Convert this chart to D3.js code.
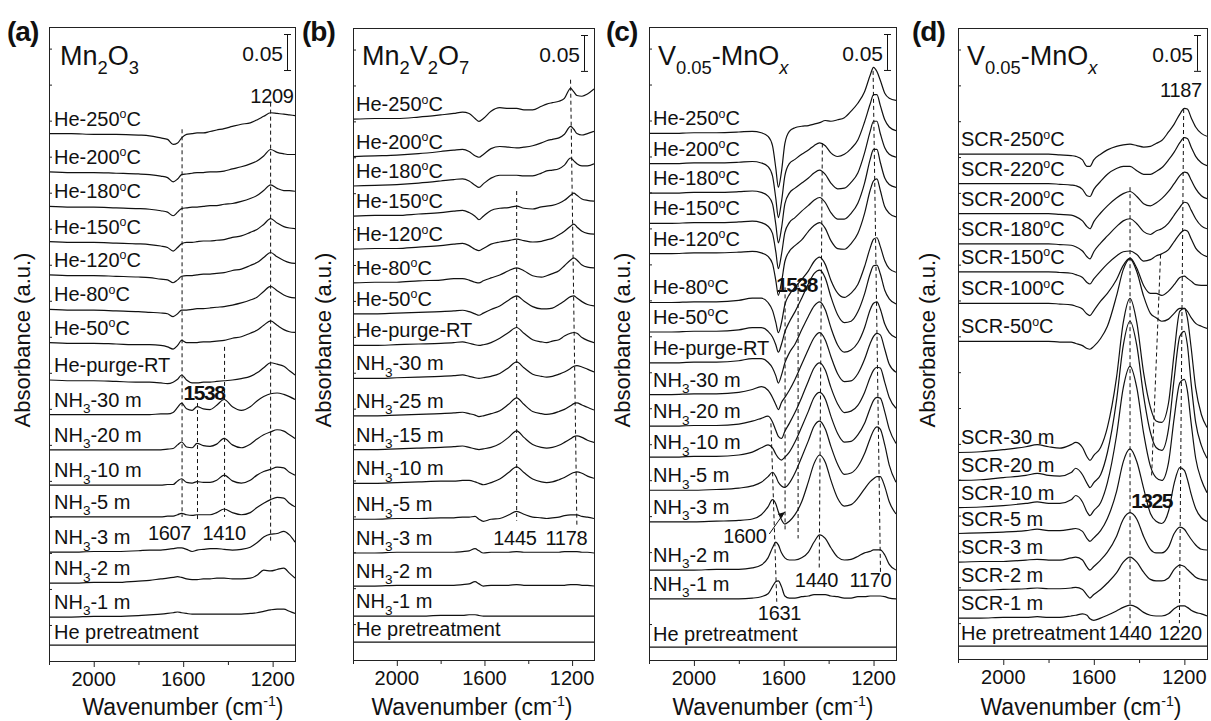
<!DOCTYPE html>
<html><head><meta charset="utf-8">
<script src="https://cdn.jsdelivr.net/npm/d3@7"></script>
<style>
body{margin:0;background:#fff;}
svg{display:block;font-family:"Liberation Sans",Arial,sans-serif;}
</style></head><body>
<svg id="chart" width="1211" height="721"></svg>
<script>
// ---------------- DATA (absorbance in mAU, wavenumber in cm^-1) ----------------
const wnTicksMajor = [2000, 1600, 1200];
const wnTicksMinor = [2200, 1800, 1400];

// Panel (a) Mn2O3
const wnA = [2200,2100,2000,1900,1800,1750,1700,1670,1645,1625,1607,1585,1560,1538,1510,1480,1450,1417,1380,1340,1300,1270,1240,1209,1180,1150,1125,1100];
const labelsA = ["He-250^{o}C","He-200^{o}C","He-180^{o}C","He-150^{o}C","He-120^{o}C","He-80^{o}C","He-50^{o}C","He-purge-RT","NH_{3}-30 m","NH_{3}-20 m","NH_{3}-10 m","NH_{3}-5 m","NH_{3}-3 m","NH_{3}-2 m","NH_{3}-1 m","He pretreatment"];
const offsetsA = [732,679,631,582,536,488,442,390,342,293,244,200,151,108,61,22];
const spectraA = [
 [0,0,-1,-1,-2,-3,-6,-8,-15,-13,-6,-1,0,1,1,3,5,7,10,13,15,19,24,29,28,27,26,25],
 [0,-1,-1,-2,-3,-4,-6,-8,-14,-10,-4,-3,-2,-1,-1,0,0,1,4,7,11,15,22,31,27,25,24,24],
 [0,-1,-1,-2,-3,-4,-6,-8,-13,-8,-3,-2,-1,-1,0,1,1,3,4,7,11,15,22,30,25,22,22,21],
 [0,-1,-1,-2,-3,-4,-6,-8,-13,-8,-3,-1,-1,0,1,1,2,3,6,8,13,17,24,32,26,21,19,18],
 [0,-1,-1,-2,-3,-4,-6,-7,-11,-7,-2,-1,-1,0,1,1,2,3,6,8,13,17,24,31,25,20,17,16],
 [0,-1,-1,-2,-3,-4,-5,-6,-10,-6,-1,-1,0,1,1,2,3,4,6,9,13,17,25,32,26,20,17,16],
 [0,-1,-1,-2,-3,-3,-4,-6,-9,-4,3,0,0,0,1,1,2,3,6,8,13,17,24,30,24,18,15,14],
 [0,-1,-1,-2,-3,-3,-4,-5,-3,1,7,0,-4,-4,-3,-3,-2,-1,0,2,5,10,17,24,22,19,13,7],
 [0,0,0,0,0,0,1,1,3,10,16,8,6,11,8,7,13,21,11,6,11,19,25,29,30,28,25,21],
 [0,0,0,0,0,0,0,1,2,7,11,4,3,9,6,5,8,16,7,3,8,15,21,25,28,26,21,16],
 [0,0,0,0,0,0,0,1,1,6,9,4,3,5,4,4,7,14,6,3,7,14,19,22,25,24,18,14],
 [0,0,0,0,0,0,0,1,1,3,5,3,2,3,3,3,6,11,6,3,6,13,19,24,27,26,19,14],
 [0,0,1,1,2,3,3,4,5,6,6,4,1,3,4,5,5,4,3,4,7,13,21,25,26,29,24,14],
 [0,0,1,1,3,4,6,7,8,9,8,6,5,5,6,6,7,7,6,6,7,11,18,17,19,21,14,7],
 [0,0,1,1,2,3,4,5,6,7,6,5,4,4,4,4,4,4,4,4,5,6,8,10,11,11,8,5],
 [0,0,0,0,0,0,0,0,0,0,0,0,0,0,0,0,0,0,0,0,0,0,0,0,0,0,0,0]
];

// Panel (b) Mn2V2O7
const wnB = [2200,2100,2000,1900,1800,1740,1700,1670,1643,1625,1605,1570,1530,1490,1453,1420,1380,1340,1316,1290,1260,1235,1207,1192,1178,1155,1130,1100];
const labelsB = ["He-250^{o}C","He-200^{o}C","He-180^{o}C","He-150^{o}C","He-120^{o}C","He-80^{o}C","He-50^{o}C","He-purge-RT","NH_{3}-30 m","NH_{3}-25 m","NH_{3}-15 m","NH_{3}-10 m","NH_{3}-5 m","NH_{3}-3 m","NH_{3}-2 m","NH_{3}-1 m","He pretreatment"];
const offsetsB = [753,701,660,618,572,525,482,438,392,340,293,246,196,149,103,61,25];
const spectraB = [
 [0,1,1,3,6,8,10,8,1,-3,1,11,16,15,15,13,13,18,21,23,25,29,43,38,33,32,35,42],
 [0,1,2,4,7,9,10,7,1,-1,3,11,14,13,12,13,15,19,22,24,26,31,42,38,32,30,32,35],
 [0,1,2,4,7,9,10,7,1,-2,3,11,15,15,15,14,14,18,21,22,24,29,39,35,31,28,28,31],
 [0,1,1,3,5,7,8,5,0,-5,0,8,11,12,14,11,10,13,14,15,18,22,29,32,29,24,22,21],
 [0,1,1,3,5,7,8,5,0,-2,1,7,10,12,14,12,10,11,13,15,20,25,32,35,31,25,22,21],
 [0,1,1,3,4,6,6,4,1,0,3,7,11,17,21,17,10,8,10,13,17,24,32,35,32,25,22,21],
 [0,0,1,2,3,4,5,3,0,-2,1,6,11,19,25,18,10,7,7,8,13,18,24,25,22,17,13,11],
 [0,0,1,2,3,4,5,3,1,0,1,4,10,18,25,17,8,5,4,6,8,13,17,18,17,11,7,4],
 [0,0,1,2,3,4,5,3,1,0,1,3,7,15,23,15,6,3,2,3,6,9,14,17,18,16,13,9],
 [0,0,1,2,3,4,5,3,1,-1,0,3,7,16,25,16,6,3,2,3,6,9,14,17,18,15,12,8],
 [0,0,1,2,3,4,5,3,1,0,1,3,8,17,26,17,7,3,2,3,6,10,15,18,19,17,13,10],
 [0,0,1,2,3,3,4,4,2,0,-2,1,6,15,23,15,6,2,1,2,5,8,13,15,16,14,10,7],
 [0,0,1,1,2,2,3,3,4,0,-3,0,1,6,11,7,3,2,1,2,3,5,6,6,6,4,3,1],
 [0,0,1,1,1,1,2,3,6,3,0,1,1,1,2,1,1,1,1,1,1,2,2,2,2,1,1,0],
 [0,0,1,1,1,1,2,3,6,3,0,1,1,1,2,1,1,1,1,1,1,1,2,2,2,1,1,0],
 [0,0,0,0,1,1,1,2,2,1,0,0,0,0,0,0,0,0,0,0,0,0,0,0,0,0,0,0],
 [0,0,0,0,0,0,0,0,0,0,0,0,0,0,0,0,0,0,0,0,0,0,0,0,0,0,0,0]
];

// Panel (c) V0.05-MnOx, NH3 adsorption
const wnC = [2200,2100,2000,1900,1800,1740,1700,1670,1650,1635,1624,1610,1595,1575,1550,1520,1490,1465,1440,1415,1390,1360,1330,1300,1270,1240,1215,1200,1185,1170,1150,1130,1100];
const labelsC = ["He-250^{o}C","He-200^{o}C","He-180^{o}C","He-150^{o}C","He-120^{o}C","He-80^{o}C","He-50^{o}C","He-purge-RT","NH_{3}-30 m","NH_{3}-20 m","NH_{3}-10 m","NH_{3}-5 m","NH_{3}-3 m","NH_{3}-2 m","NH_{3}-1 m","He pretreatment"];
const offsetsC = [732,690,649,607,565,497,456,413,369,325,282,236,192,125,85,18];
const spectraC = [
 [0,0,1,1,2,3,1,-4,-17,-49,-75,-53,-14,3,8,10,11,13,15,18,17,19,22,31,42,58,81,92,86,74,56,49,46],
 [0,0,1,1,2,3,1,-4,-17,-49,-75,-53,-17,0,6,13,19,25,29,25,15,10,13,21,33,58,83,96,96,81,61,51,46],
 [0,0,1,1,2,3,1,-4,-15,-44,-69,-49,-15,0,7,14,21,28,32,26,14,6,7,15,28,56,86,100,100,83,63,54,50],
 [0,0,1,1,2,3,1,-4,-14,-40,-63,-43,-13,1,8,17,25,32,36,29,15,6,6,14,28,56,89,103,103,85,63,54,50],
 [0,0,1,1,2,3,1,-4,-14,-38,-58,-40,-11,3,11,19,31,39,43,35,18,7,6,14,28,56,88,101,104,88,65,56,51],
 [0,0,1,1,3,6,6,0,-11,-28,-42,-28,-3,11,21,32,44,57,63,53,31,13,7,13,25,50,76,88,90,78,58,47,42],
 [0,0,1,1,3,6,6,1,-7,-18,-28,-17,0,14,28,47,67,81,86,75,49,24,13,15,28,53,81,92,93,81,58,46,39],
 [0,0,1,1,3,6,6,1,-7,-18,-28,-17,0,14,26,46,65,79,85,74,49,25,15,18,28,49,74,83,85,75,54,42,35],
 [0,0,1,1,3,7,11,6,-4,-14,-21,-11,-4,6,21,42,63,79,86,76,53,29,18,19,29,49,71,81,85,83,63,42,31],
 [0,0,1,1,3,7,11,14,6,-6,-14,-17,-7,4,19,40,63,81,88,78,54,31,19,21,29,47,68,78,82,81,61,40,25],
 [0,0,1,1,3,7,13,17,13,4,-1,-4,0,7,21,42,64,83,90,81,57,33,21,22,31,47,68,79,83,82,63,39,19],
 [0,0,0,1,3,6,11,19,25,19,11,6,4,10,24,46,69,89,96,85,61,36,22,24,33,51,72,83,88,85,63,35,11],
 [0,0,0,1,2,4,10,21,31,25,14,3,-3,1,10,28,56,81,93,83,58,33,22,24,33,46,56,60,63,63,49,28,11],
 [0,0,0,1,1,3,7,17,31,39,35,24,17,14,14,17,25,39,49,44,31,18,14,15,19,24,26,28,28,28,21,8,0],
 [0,0,0,0,0,1,3,7,17,24,25,17,4,1,1,3,4,6,6,6,4,3,1,1,3,3,4,4,4,4,3,1,0],
 [0,0,0,0,0,0,0,0,0,0,0,0,0,0,0,0,0,0,0,0,0,0,0,0,0,0,0,0,0,0,0,0,0]
];

// Panel (d) V0.05-MnOx, SCR
const wnD = [2200,2100,2000,1900,1850,1800,1750,1700,1680,1650,1630,1617,1600,1570,1540,1500,1470,1440,1410,1380,1350,1325,1300,1270,1245,1220,1200,1187,1170,1150,1125,1100];
const labelsD = ["SCR-250^{o}C","SCR-220^{o}C","SCR-200^{o}C","SCR-180^{o}C","SCR-150^{o}C","SCR-100^{o}C","SCR-50^{o}C","SCR-30 m","SCR-20 m","SCR-10 m","SCR-5 m","SCR-3 m","SCR-2 m","SCR-1 m","He pretreatment"];
const offsetsD = [704,663,621,579,540,496,443,288,249,211,175,135,96,57,18];
const spectraD = [
 [0,0,0,0,0,0,-1,-2,-3,-8,-17,-17,-8,0,6,11,13,14,12,10,11,15,19,31,42,56,64,63,51,38,29,25],
 [0,0,0,0,0,0,-1,-2,-3,-8,-17,-18,-8,3,13,21,24,24,18,13,13,17,22,33,44,57,64,63,51,38,29,25],
 [0,0,0,0,0,0,-1,-2,-4,-10,-18,-21,-11,1,11,22,28,31,24,14,11,15,21,31,42,53,58,57,47,35,25,21],
 [0,0,0,0,0,0,-1,-2,-4,-10,-18,-21,-11,1,11,24,32,35,28,17,13,18,21,29,40,51,58,57,47,35,25,21],
 [0,0,0,0,0,0,-1,-2,-4,-8,-15,-17,-10,1,11,22,28,29,24,15,17,22,25,31,42,53,58,57,46,33,25,21],
 [0,0,0,0,0,0,-1,-2,-4,-8,-15,-17,-10,3,14,33,53,63,49,25,14,14,11,17,26,36,38,35,31,26,25,25],
 [0,0,0,0,0,0,-1,-1,-3,-6,-10,-11,-7,4,21,63,100,115,97,63,39,33,28,31,39,46,46,42,33,25,21,18],
 [0,1,4,8,11,8,6,11,14,7,-6,-11,-4,7,35,104,181,215,181,111,63,44,42,69,139,197,201,188,146,90,53,35],
 [0,1,4,7,10,7,6,11,17,8,-4,-10,-3,8,39,111,188,222,188,118,67,46,42,72,142,201,208,190,135,81,49,31],
 [0,1,3,6,8,6,6,11,17,8,-6,-11,-4,7,35,100,167,197,167,104,58,42,38,63,125,174,179,164,118,69,39,21],
 [0,1,2,4,6,4,4,6,7,3,-7,-11,-6,4,21,58,100,118,100,63,28,17,14,31,70,92,88,76,55,35,22,17],
 [0,1,1,3,4,3,3,6,7,3,-7,-11,-6,3,14,36,60,69,60,36,18,13,13,21,40,49,46,40,32,24,18,17],
 [0,0,1,2,3,2,2,3,4,1,-7,-11,-6,1,10,24,39,46,39,25,15,13,13,17,29,35,33,29,24,18,15,14],
 [0,0,1,1,2,1,1,3,4,6,4,-1,-3,0,4,10,15,18,15,8,4,3,3,6,13,17,17,15,11,8,6,3],
 [0,0,0,0,0,0,0,0,0,0,0,0,0,0,0,0,0,0,0,0,0,0,0,0,0,0,0,0,0,0,0,0]
];

// Titles, guide lines [wnTop, mAUtop, wnBottom, mAUbottom], peak annotations [text, wn, bold]
const titles = ["Mn_{2}O_{3}", "Mn_{2}V_{2}O_{7}", "V_{0.05}-MnO_{*x}", "V_{0.05}-MnO_{*x}"];
const panelTags = ["(a)", "(b)", "(c)", "(d)"];
const guidesA = [[1209,775,1209,164],[1605,738,1605,200],[1536,358,1536,196],[1415,436,1415,200]];
const guidesB = [[1207,808,1178,185],[1453,653,1453,194]];
const guidesC = [[1428,718,1442,125],[1202,819,1169,121],[1594,518,1594,181],[1536,524,1536,169],[1657,329,1631,81]];
const guidesD = [[1440,658,1440,50],[1305,564,1345,253],[1203,767,1222,50]];
const peaksA = [["1209",1203,false],["1538",1507,true],["1607",1661,false],["1410",1417,false]];
const peaksB = [["1445",1461,false],["1178",1226,false]];
const peaksC = [["1538",1543,true],["1600",1773,false],["1440",1454,false],["1170",1214,false],["1631",1619,false]];
const peaksD = [["1187",1215,false],["1325",1345,true],["1440",1440,false],["1220",1219,false]];
const scaleBarValue = 50; // mAU = 0.05 a.u.

// ---------------- LAYOUT ----------------
const svg = d3.select('#chart');
const panels = [
  {wn:wnA, labels:labelsA, offsets:offsetsA, spectra:spectraA, guides:guidesA, peaks:peaksA,
   box:{l:49,r:295,t:27,b:661}, labelX:54, tagX:7, yTitleX:22, xTitleX:183,
   peakY:[103,400,540,540], barX:287, titleX:60},
  {wn:wnB, labels:labelsB, offsets:offsetsB, spectra:spectraB, guides:guidesB, peaks:peaksB,
   box:{l:353,r:594,t:28,b:660}, labelX:356, tagX:302, yTitleX:323, xTitleX:472,
   peakY:[545,545], barX:584, titleX:362},
  {wn:wnC, labels:labelsC, offsets:offsetsC, spectra:spectraC, guides:guidesC, peaks:peaksC,
   box:{l:649,r:896,t:27,b:660}, labelX:653, tagX:606, yTitleX:622, xTitleX:773,
   peakY:[292,543,587,587,620], barX:887, titleX:658, arrow:true},
  {wn:wnD, labels:labelsD, offsets:offsetsD, spectra:spectraD, guides:guidesD, peaks:peaksD,
   box:{l:958,r:1207,t:28,b:659}, labelX:961, tagX:912, yTitleX:927, xTitleX:1081,
   peakY:[97,508,640,640], barX:1197, titleX:967}
];

function rich(textSel, str, size){
  const parts = str.split(/(_\{[^}]*\}|\^\{[^}]*\})/).filter(s => s.length);
  let cur = 0;
  parts.forEach(p => {
    let t = p, off = 0, fs = size, italic = false;
    if (p.startsWith('_{')) { t = p.slice(2,-1); off = size*0.32; fs = size*0.68; }
    else if (p.startsWith('^{')) { t = p.slice(2,-1); off = -size*0.38; fs = size*0.62; }
    if (t.startsWith('*')) { t = t.slice(1); italic = true; }
    const ts = textSel.append('tspan').text(t).attr('font-size', fs).attr('dy', off - cur);
    if (italic) ts.attr('font-style', 'italic');
    cur = off;
  });
}

panels.forEach((P, pi) => {
  const g = svg.append('g');
  const {l, r, t, b} = P.box;
  const x = d3.scaleLinear().domain([2200, 1100]).range([l, r]);
  const y = d3.scaleLinear().domain([0, 880]).range([b, t]);
  const clipId = 'clip' + pi;
  svg.append('clipPath').attr('id', clipId).append('rect')
    .attr('x', l).attr('y', t).attr('width', r - l).attr('height', b - t);

  // guide lines
  g.append('g').selectAll('line').data(P.guides).join('line')
    .attr('x1', d => x(d[0])).attr('y1', d => y(d[1]))
    .attr('x2', d => x(d[2])).attr('y2', d => y(d[3]))
    .attr('stroke', '#111').attr('stroke-width', 1).attr('stroke-dasharray', '4,3');

  // spectra
  const line = d3.line().x(d => x(d[0])).y(d => y(d[1])).curve(d3.curveMonotoneX);
  g.append('g').attr('clip-path', `url(#${clipId})`).selectAll('path')
    .data(P.spectra.map((s, i) => s.map((v, j) => [P.wn[j], v + P.offsets[i]])))
    .join('path').attr('d', line).attr('fill', 'none')
    .attr('stroke', '#111').attr('stroke-width', 1.2);

  // trace labels
  P.labels.forEach((lab, i) => {
    const gap = i === P.labels.length - 1 ? 6 : 8;
    const tx = g.append('text').attr('x', P.labelX).attr('y', y(P.offsets[i]) - gap)
      .attr('font-size', 20).attr('fill', '#111');
    rich(tx, lab, 20);
  });

  // frame
  g.append('rect').attr('x', l + 0.5).attr('y', t + 0.5).attr('width', r - l).attr('height', b - t)
    .attr('fill', 'none').attr('stroke', '#222').attr('stroke-width', 1);

  // x axis ticks
  const ax = g.append('g');
  ax.selectAll('.maj').data(wnTicksMajor).join('line')
    .attr('x1', d => x(d) + 0.5).attr('x2', d => x(d) + 0.5)
    .attr('y1', b).attr('y2', b + 6).attr('stroke', '#222');
  ax.selectAll('.min').data(wnTicksMinor).join('line')
    .attr('x1', d => x(d) + 0.5).attr('x2', d => x(d) + 0.5)
    .attr('y1', b).attr('y2', b + 4).attr('stroke', '#222');
  ax.selectAll('text').data(wnTicksMajor).join('text')
    .attr('x', d => x(d)).attr('y', b + 25).attr('text-anchor', 'middle')
    .attr('font-size', 20).attr('fill', '#111').text(d => d);

  // y ticks (every 0.05 a.u.)
  g.append('g').selectAll('line').data(d3.range(50, 880, 50)).join('line')
    .attr('x1', l).attr('x2', l + 3).attr('y1', d => y(d) + 0.5).attr('y2', d => y(d) + 0.5)
    .attr('stroke', '#222');

  // axis titles
  const xt = g.append('text').attr('x', P.xTitleX).attr('y', 715).attr('text-anchor', 'middle')
    .attr('font-size', 23).attr('fill', '#111');
  rich(xt, "Wavenumber (cm^{-1})", 23);
  g.append('text').attr('transform', `translate(${P.yTitleX + 8},340) rotate(-90)`)
    .attr('text-anchor', 'middle').attr('font-size', 22).attr('fill', '#111')
    .text('Absorbance (a.u.)');

  // panel tag
  g.append('text').attr('x', P.tagX).attr('y', 41).attr('font-size', 28).attr('font-weight', 'bold')
    .attr('letter-spacing', -1).attr('fill', '#111').text(panelTags[pi]);

  // title
  const tt = g.append('text').attr('x', P.titleX).attr('y', 65).attr('font-size', 27).attr('fill', '#111');
  rich(tt, titles[pi], 27);

  // scale bar
  const yb0 = t + 7, yb1 = yb0 + (y(0) - y(scaleBarValue));
  const sb = g.append('g').attr('stroke', '#111').attr('stroke-width', 1);
  sb.append('line').attr('x1', P.barX + 0.5).attr('x2', P.barX + 0.5).attr('y1', yb0).attr('y2', yb1);
  sb.append('line').attr('x1', P.barX - 3).attr('x2', P.barX + 4).attr('y1', yb0 + 0.5).attr('y2', yb0 + 0.5);
  sb.append('line').attr('x1', P.barX - 3).attr('x2', P.barX + 4).attr('y1', yb1 + 0.5).attr('y2', yb1 + 0.5);
  g.append('text').attr('x', P.barX - 4).attr('y', yb0 + 27).attr('text-anchor', 'end')
    .attr('font-size', 21).attr('fill', '#111').text((scaleBarValue / 1000).toFixed(2));

  // peak annotations
  P.peaks.forEach((pk, k) => {
    g.append('text').attr('x', x(pk[1])).attr('y', P.peakY[k]).attr('text-anchor', 'middle')
      .attr('font-size', pk[2] ? 21 : 20).attr('font-weight', pk[2] ? 'bold' : 'normal')
      .attr('letter-spacing', pk[2] ? -1.5 : -0.3).attr('fill', '#111').text(pk[0]);
  });

  if (P.arrow) {
    const ax0 = x(1700), ay0 = 534, ax1 = x(1600) + 1, ay1 = 512;
    g.append('line').attr('x1', ax0 + 8).attr('y1', ay0).attr('x2', ax1).attr('y2', ay1)
      .attr('stroke', '#111').attr('stroke-width', 1);
    g.append('path').attr('d', `M${ax1},${ay1} l-7,2 l4,4 z`).attr('fill', '#111');
  }
});
</script>
</body></html>
